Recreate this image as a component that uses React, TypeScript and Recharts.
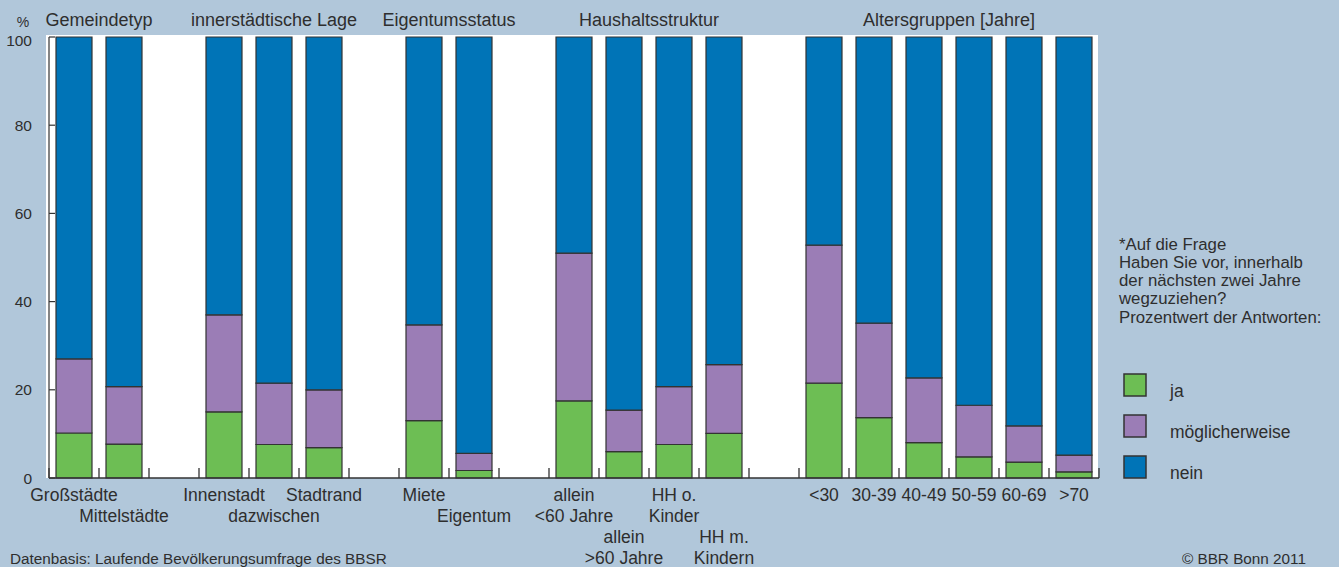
import React from "react";
import { BarChart, Bar, XAxis, YAxis } from "recharts";

// categories ("" = spacer slot between groups), "\n" splits a label onto two lines
const categories = [
  "Großstädte", "Mittelstädte", "",
  "Innenstadt", "dazwischen", "Stadtrand", "",
  "Miete", "Eigentum", "",
  "allein\n<60 Jahre", "allein\n>60 Jahre", "HH o.\nKinder", "HH m.\nKindern", "",
  "<30", "30-39", "40-49", "50-59", "60-69", ">70",
];
// which text row each label starts on (labels are staggered)
const labelRows = [0, 1, 0, 0, 1, 0, 0, 0, 1, 0, 0, 2, 0, 2, 0, 0, 0, 0, 0, 0, 0];

const ja = [10.2, 7.7, null, 15.0, 7.6, 6.9, null, 13.0, 1.7, null, 17.5, 6.0, 7.6, 10.1, null, 21.5, 13.7, 8.0, 4.8, 3.6, 1.4];
const moeglich = [16.8, 13.0, null, 22.0, 13.9, 13.1, null, 21.7, 3.9, null, 33.5, 9.4, 13.1, 15.6, null, 31.3, 21.4, 14.7, 11.7, 8.2, 3.8];
const nein = [73.0, 79.3, null, 63.0, 78.5, 80.0, null, 65.3, 94.4, null, 49.0, 84.6, 79.3, 74.3, null, 47.2, 64.9, 77.3, 83.5, 88.2, 94.8];

const groups = [
  { title: "Gemeindetyp", start: 0, count: 2 },
  { title: "innerstädtische Lage", start: 3, count: 3 },
  { title: "Eigentumsstatus", start: 7, count: 2 },
  { title: "Haushaltsstruktur", start: 10, count: 4 },
  { title: "Altersgruppen [Jahre]", start: 15, count: 6 },
];

const yTicks = [0, 20, 40, 60, 80, 100];

const noteLines = [
  "*Auf die Frage",
  "Haben Sie vor, innerhalb",
  "der nächsten zwei Jahre",
  "wegzuziehen?",
  "Prozentwert der Antworten:",
];

const series = [
  { key: "ja", name: "ja", color: "#6dbe54" },
  { key: "moeglich", name: "möglicherweise", color: "#9b7db6" },
  { key: "nein", name: "nein", color: "#0074b7" },
];

const data = categories.map((c, i) => ({
  key: `c${i}`,
  ja: ja[i],
  moeglich: moeglich[i],
  nein: nein[i],
}));

const W = 1339;
const H = 567;
const PLOT_LEFT = 49;
const PLOT_RIGHT = 1099;
const PLOT_TOP = 37;
const PLOT_BOTTOM = 478;
const SLOT = (PLOT_RIGHT - PLOT_LEFT) / categories.length;

const FONT = "'Liberation Sans', Arial, Helvetica, sans-serif";
const TEXT = "#2e2e2e";
const LINE = "#333";
const BG = "#b1c7da";

const XTick = (props: any) => {
  const { x, y, payload } = props;
  const i = payload.index;
  const lines = categories[i] ? categories[i].split("\n") : [];
  const row = labelRows[i];
  return (
    <g>
      <line x1={x - SLOT / 2} x2={x - SLOT / 2} y1={y} y2={y - 10} stroke={LINE} strokeWidth={1.3} />
      {i === categories.length - 1 && (
        <line x1={x + SLOT / 2} x2={x + SLOT / 2} y1={y} y2={y - 10} stroke={LINE} strokeWidth={1.3} />
      )}
      {lines.length > 0 && (
        <text textAnchor="middle" fontFamily={FONT} fontSize={17.5} fill={TEXT}>
          {lines.map((l, k) => (
            <tspan key={k} x={x} y={y + 23 + 21 * (row + k)}>
              {l}
            </tspan>
          ))}
        </text>
      )}
    </g>
  );
};

const YTick = (props: any) => {
  const { x, y, payload } = props;
  // top label sits a little lower, below the "%" unit
  const ty = Math.max(y, PLOT_TOP + 3.5);
  return (
    <g>
      <line x1={x + 17} x2={x + 23} y1={y} y2={y} stroke={LINE} strokeWidth={1.2} />
      <text x={x} y={ty} dy={5.5} textAnchor="end" fontFamily={FONT} fontSize={15.5} fill={TEXT}>
        {payload.value}
      </text>
    </g>
  );
};

export default function App() {
  return (
    <div style={{ position: "absolute", left: 0, top: 0, width: W, height: H, background: BG, overflow: "hidden" }}>
      {/* white plot panel */}
      <div style={{ position: "absolute", left: 46, top: 35, width: 1052, height: 443, background: "#fff" }} />
      <div style={{ position: "absolute", left: 0, top: 0 }}>
        <BarChart
          width={W}
          height={H}
          data={data}
          margin={{ top: PLOT_TOP, right: W - PLOT_RIGHT, bottom: 0, left: 0 }}
          barSize={36}
        >
          <XAxis
            dataKey="key"
            height={H - PLOT_BOTTOM}
            interval={0}
            tickSize={0}
            tickMargin={0}
            tickLine={false}
            axisLine={{ stroke: LINE, strokeWidth: 1.5 }}
            tick={<XTick />}
          />
          <YAxis
            width={PLOT_LEFT}
            domain={[0, 100]}
            ticks={yTicks}
            interval={0}
            tickSize={0}
            tickMargin={17}
            tickLine={false}
            axisLine={{ stroke: LINE, strokeWidth: 1.2 }}
            tick={<YTick />}
          />
          {series.map((s) => (
            <Bar
              key={s.key}
              dataKey={s.key}
              name={s.name}
              stackId="a"
              fill={s.color}
              stroke={LINE}
              strokeWidth={1.2}
              isAnimationActive={false}
            />
          ))}
        </BarChart>
      </div>
      <svg width={W} height={H} style={{ position: "absolute", left: 0, top: 0, pointerEvents: "none" }}>
        <text x={23} y={27} textAnchor="middle" fontFamily={FONT} fontSize={14} fill={TEXT}>
          %
        </text>
        {groups.map((g) => (
          <text
            key={g.title}
            x={PLOT_LEFT + SLOT * (g.start + g.count / 2)}
            y={26}
            textAnchor="middle"
            fontFamily={FONT}
            fontSize={18}
            fill={TEXT}
          >
            {g.title}
          </text>
        ))}
        {noteLines.map((l, i) => (
          <text key={i} x={1119} y={249.5 + 18.3 * i} fontFamily={FONT} fontSize={16.8} fill={TEXT}>
            {l}
          </text>
        ))}
        {series.map((s, i) => (
          <g key={s.key}>
            <rect x={1124} y={374 + 41 * i} width={22} height={22} fill={s.color} stroke={LINE} strokeWidth={1.5} />
            <text x={1170} y={397 + 41 * i} fontFamily={FONT} fontSize={17.5} fill={TEXT}>
              {s.name}
            </text>
          </g>
        ))}
        <text x={10} y={564} fontFamily={FONT} fontSize={15.3} fill={TEXT}>
          Datenbasis: Laufende Bevölkerungsumfrage des BBSR
        </text>
        <text x={1306} y={564} textAnchor="end" fontFamily={FONT} fontSize={15.3} fill={TEXT}>
          © BBR Bonn 2011
        </text>
      </svg>
    </div>
  );
}
